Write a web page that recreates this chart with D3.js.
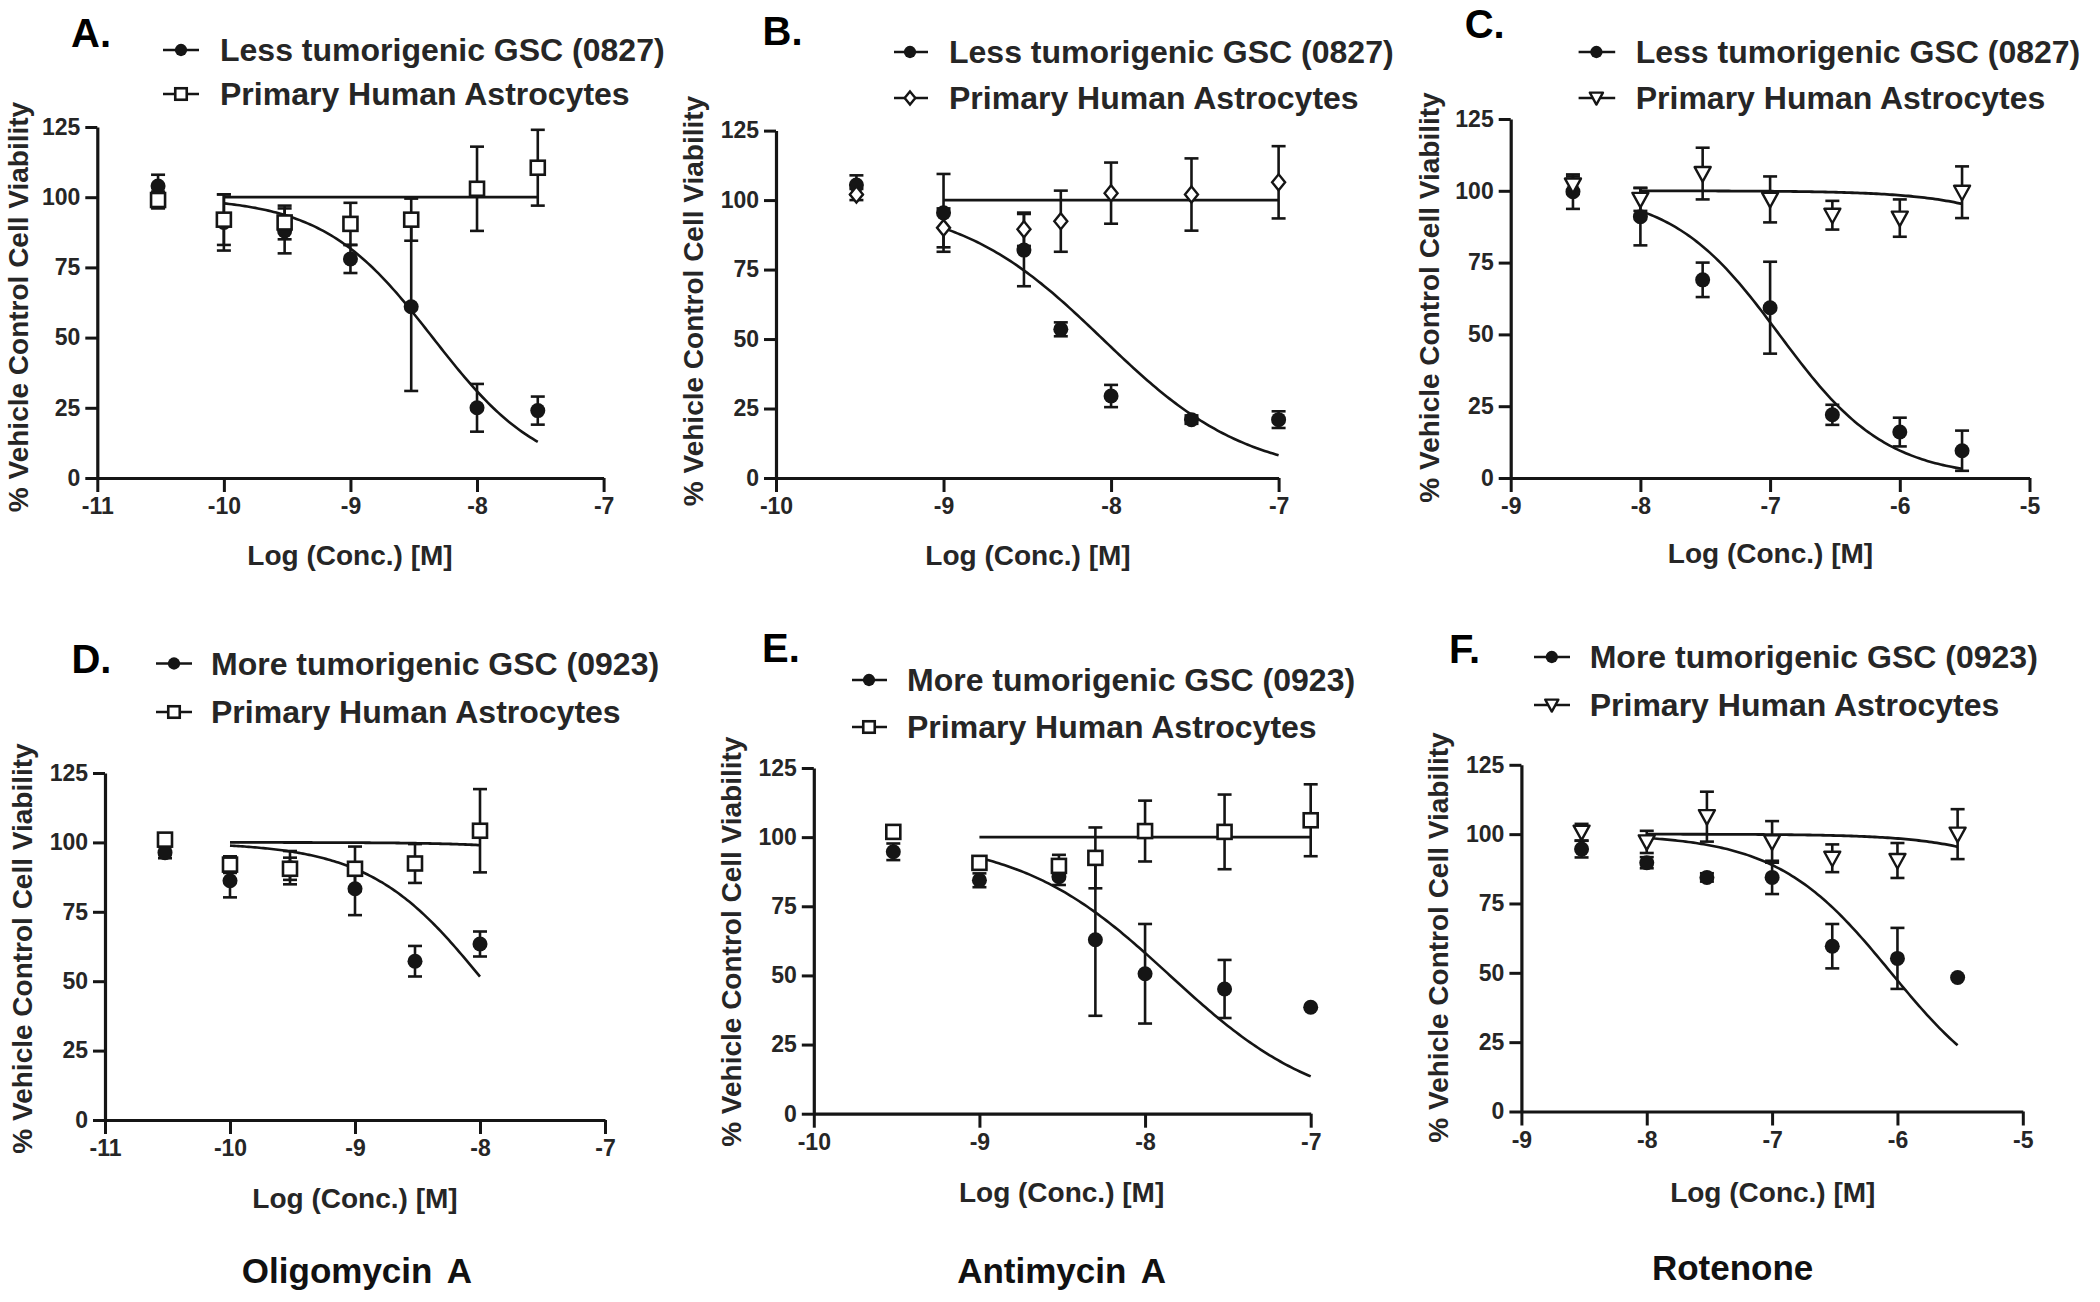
<!DOCTYPE html>
<html><head><meta charset="utf-8">
<script src="https://cdn.jsdelivr.net/npm/d3@7"></script>
<style>
html,body{margin:0;padding:0;background:#fff;}
svg{display:block;font-family:"Liberation Sans",Arial,Helvetica,sans-serif;}
</style></head>
<body>
<svg id="fig" width="2100" height="1302"></svg>
<script>
// ---------- DATA ----------
const panelLabels = ["A.", "B.", "C.", "D.", "E.", "F."];
const gscNames = ["Less tumorigenic GSC (0827)", "Less tumorigenic GSC (0827)", "Less tumorigenic GSC (0827)",
                  "More tumorigenic GSC (0923)", "More tumorigenic GSC (0923)", "More tumorigenic GSC (0923)"];
const astroName = "Primary Human Astrocytes";
const drugNames = ["", "", "", "Oligomycin A", "Antimycin A", "Rotenone"];
const yTitle = "% Vehicle Control Cell Viability";
const xTitle = "Log (Conc.) [M]";
const yTicks = [0, 25, 50, 75, 100, 125];
const xTicksA = [-11, -10, -9, -8, -7];
const xTicksB = [-10, -9, -8, -7];
const xTicksC = [-9, -8, -7, -6, -5];

// Panel A – Oligomycin A, 0827
const xA = [-10.52, -10, -9.52, -9, -8.52, -8, -7.52];
const gscA = [104, 91, 88, 78, 61, 25, 24];
const gscErrA = [4, 10, 8, 5, 30, 8.5, 5];
const astA = [99, 92, 91, 90.5, 92, 103, 110.5];
const astErrA = [3, 9, 6, 7.5, 7.5, 15, 13.5];
// Panel B – Antimycin A, 0827
const xB = [-9.52, -9, -8.52, -8.3, -8, -7.52, -7];
const gscB = [105.4, 95.4, 82, 53.5, 29.5, 21, 21];
const gscErrB = [3.5, 14, 13, 2.5, 4, 1.5, 3];
const astB = [102, 90, 89.5, 92.4, 102.5, 102, 106.4];
const astErrB = [2, 7, 6, 11, 11, 13, 13];
// Panel C – Rotenone, 0827
const xC = [-8.52, -8, -7.52, -7, -6.52, -6, -5.52];
const gscC = [99.7, 91, 69, 59.3, 22, 16, 9.5];
const gscErrC = [6, 10, 6, 16, 3.5, 5, 7];
const astC = [102, 97, 106, 97, 91.5, 90.5, 99.5];
const astErrC = [3, 4, 9, 8, 5, 6.5, 9];
// Panel D – Oligomycin A, 0923
const xD = [-10.52, -10, -9.52, -9, -8.52, -8];
const gscD = [96.3, 86.2, 90.9, 83.3, 57.2, 63.4];
const gscErrD = [2, 6, 6, 9.5, 5.5, 4.5];
const astD = [101, 92, 90.5, 90.5, 92.4, 104.2];
const astErrD = [2, 3, 4, 8, 7, 15];
// Panel E – Antimycin A, 0923
const xE = [-9.52, -9, -8.52, -8.3, -8, -7.52, -7];
const gscE = [94.7, 84.4, 85.7, 62.9, 50.6, 45.1, 38.5];
const gscErrE = [3, 2.5, 3, 27.5, 18, 10.5, 0];
const astE = [101.9, 90.7, 89.6, 92.5, 102.2, 101.9, 106.1];
const astErrE = [2, 2, 4, 11, 11, 13.5, 13];
// Panel F – Rotenone, 0923
const xF = [-8.52, -8, -7.52, -7, -6.52, -6, -5.52];
const gscF = [94.6, 89.7, 84.4, 84.4, 59.6, 55.2, 48.3];
const gscErrF = [3, 2, 1.5, 6, 8, 11, 0];
const astF = [100.7, 97.2, 106.3, 97.2, 91.3, 90.5, 100];
const astErrF = [3, 4, 9, 7.5, 5, 6.3, 9];

// Fitted 4-parameter curves: [top, bottom, logIC50, hill]
const fitGscA = [100, 0, -8.35, 1],  fitAstA = [100, 100, -8, 1];
const fitGscB = [100, 0, -8.05, 1],  fitAstB = [100, 100, -8, 1];
const fitGscC = [100, 0, -6.93, 1.05], fitAstC = [100, 0, -4.2, 1];
const fitGscD = [100, 0, -7.97, 0.95], fitAstD = [100, 0, -6, 1];
const fitGscE = [100, 0, -7.85, 0.95], fitAstE = [100, 100, -8, 1];
const fitGscF = [100, 0, -6.05, 0.95], fitAstF = [100, 0, -4.2, 1];
const fitRangeA = [-10, -7.52], fitRangeB = [-9, -7], fitRangeC = [-8, -5.52];
const fitRangeD = [-10, -8], fitRangeE = [-9, -7], fitRangeF = [-8, -5.52];
const astroShapes = ["square", "diamond", "triangle", "square", "square", "triangle"];

// ---------- LAYOUT ----------
const layout = [
  {xd:[-11,-7], xt:xTicksA, px:[97.3,603.6], py:[478,127], title:[71,33], sym:181, line:[163,199], tx:220, rows:[50,94], xTitle:[350,555], yLab:[18,307], drug:null},
  {xd:[-10,-7], xt:xTicksB, px:[776,1278.6], py:[478,130.6], title:[762.5,31.4], sym:910, line:[894,928], tx:949, rows:[52,98], xTitle:[1028,555], yLab:[693,301], drug:null},
  {xd:[-9,-5], xt:xTicksC, px:[1510.7,2029.5], py:[478,119], title:[1464.7,24], sym:1596.4, line:[1578.6,1615.2], tx:1635.7, rows:[52,98], xTitle:[1770.5,553], yLab:[1429,297.5], drug:null},
  {xd:[-11,-7], xt:xTicksA, px:[105,605], py:[1120,773], title:[71.4,659], sym:174, line:[156,192], tx:211, rows:[663.5,712], xTitle:[355,1198.5], yLab:[22,948.5], drug:[357,1270]},
  {xd:[-10,-7], xt:xTicksB, px:[813.8,1310.7], py:[1113.7,768], title:[762,648], sym:869, line:[852,887], tx:907, rows:[680,727], xTitle:[1061.6,1192], yLab:[731,941.7], drug:[1061.6,1270]},
  {xd:[-9,-5], xt:xTicksC, px:[1521.4,2022.8], py:[1111.5,764.8], title:[1449,649], sym:1551.8, line:[1534,1570], tx:1589.7, rows:[657,705], xTitle:[1772.8,1192], yLab:[1438,937.5], drug:[1732.6,1267]}
];
const series = [
  {x:xA, g:gscA, ge:gscErrA, a:astA, ae:astErrA, fg:fitGscA, fa:fitAstA, fr:fitRangeA},
  {x:xB, g:gscB, ge:gscErrB, a:astB, ae:astErrB, fg:fitGscB, fa:fitAstB, fr:fitRangeB},
  {x:xC, g:gscC, ge:gscErrC, a:astC, ae:astErrC, fg:fitGscC, fa:fitAstC, fr:fitRangeC},
  {x:xD, g:gscD, ge:gscErrD, a:astD, ae:astErrD, fg:fitGscD, fa:fitAstD, fr:fitRangeD},
  {x:xE, g:gscE, ge:gscErrE, a:astE, ae:astErrE, fg:fitGscE, fa:fitAstE, fr:fitRangeE},
  {x:xF, g:gscF, ge:gscErrF, a:astF, ae:astErrF, fg:fitGscF, fa:fitAstF, fr:fitRangeF}
];

const ink = "#151515", textInk = "#262626";
const svg = d3.select("#fig");
svg.append("rect").attr("width",2100).attr("height",1302).attr("fill","#fff");

function logistic(p, x){ return p[1] + (p[0]-p[1])/(1+Math.pow(10,(x-p[2])*p[3])); }

function marker(g, shape, cx, cy, s){
  s = s || 1;
  if(shape==="circle"){
    g.append("circle").attr("cx",cx).attr("cy",cy).attr("r",7.5*s).attr("fill",ink);
  } else if(shape==="square"){
    g.append("rect").attr("x",cx-7*s).attr("y",cy-7*s).attr("width",14*s).attr("height",14*s)
      .attr("fill","#fff").attr("stroke",ink).attr("stroke-width",2.6);
  } else if(shape==="diamond"){
    g.append("path").attr("d",`M${cx},${cy-8*s}L${cx+6.5*s},${cy}L${cx},${cy+8*s}L${cx-6.5*s},${cy}Z`)
      .attr("fill","#fff").attr("stroke",ink).attr("stroke-width",2.4);
  } else {
    g.append("path").attr("d",`M${cx-8*s},${cy-6.5*s}L${cx+8*s},${cy-6.5*s}L${cx},${cy+8*s}Z`)
      .attr("fill","#fff").attr("stroke",ink).attr("stroke-width",2.4).attr("stroke-linejoin","round");
  }
}

layout.forEach((L, i) => {
  const S = series[i];
  const g = svg.append("g");
  const x = d3.scaleLinear().domain(L.xd).range(L.px);
  const y = d3.scaleLinear().domain([0,125]).range(L.py);

  // axes
  const xAxis = d3.axisBottom(x).tickValues(L.xt).tickSize(14).tickSizeOuter(0).tickPadding(6).tickFormat(d3.format("d"));
  const yAxis = d3.axisLeft(y).tickValues(yTicks).tickSize(12).tickSizeOuter(0).tickPadding(5);
  const gx = g.append("g").attr("transform",`translate(0,${L.py[0]})`).call(xAxis);
  const gy = g.append("g").attr("transform",`translate(${L.px[0]},0)`).call(yAxis);
  [gx,gy].forEach(a=>{
    a.select(".domain").attr("stroke",ink).attr("stroke-width",3.2);
    a.selectAll(".tick line").attr("stroke",ink).attr("stroke-width",3);
    a.selectAll(".tick text").attr("fill",textInk).attr("font-size",23).attr("font-weight","bold")
      .attr("font-family",'"Liberation Sans",Arial,sans-serif');
  });
  gx.selectAll(".tick text").text(d=>String(d).replace("\u2212","-"));

  // fitted curves
  const line = d3.line().x(d=>x(d[0])).y(d=>y(d[1]));
  const xs = d3.range(0,121).map(k=>S.fr[0]+(S.fr[1]-S.fr[0])*k/120);
  g.append("path").attr("d",line(xs.map(v=>[v,logistic(S.fa,v)]))).attr("fill","none").attr("stroke",ink).attr("stroke-width",2.8);
  g.append("path").attr("d",line(xs.map(v=>[v,logistic(S.fg,v)]))).attr("fill","none").attr("stroke",ink).attr("stroke-width",2.6);

  // error bars
  function errBars(vals, errs){
    vals.forEach((v,k)=>{
      const e = errs[k]; if(!e) return;
      const cx = x(S.x[k]);
      g.append("line").attr("x1",cx).attr("x2",cx).attr("y1",y(v-e)).attr("y2",y(v+e)).attr("stroke",ink).attr("stroke-width",2.6);
      [v-e,v+e].forEach(t=>g.append("line").attr("x1",cx-7).attr("x2",cx+7).attr("y1",y(t)).attr("y2",y(t)).attr("stroke",ink).attr("stroke-width",2.6));
    });
  }
  errBars(S.g, S.ge);
  errBars(S.a, S.ae);
  S.g.forEach((v,k)=>marker(g,"circle",x(S.x[k]),y(v)));
  S.a.forEach((v,k)=>marker(g,astroShapes[i],x(S.x[k]),y(v)));

  // panel title
  g.append("text").attr("x",L.title[0]).attr("y",L.title[1]).attr("dominant-baseline","central")
    .attr("font-size",40).attr("font-weight","bold").attr("fill","#000").text(panelLabels[i]);

  // legend
  [[gscNames[i],"circle"],[astroName,astroShapes[i]]].forEach((it,r)=>{
    const ry = L.rows[r];
    g.append("line").attr("x1",L.line[0]).attr("x2",L.line[1]).attr("y1",ry).attr("y2",ry).attr("stroke",ink).attr("stroke-width",2.6);
    marker(g,it[1],L.sym,ry,0.82);
    g.append("text").attr("x",L.tx).attr("y",ry).attr("dominant-baseline","central")
      .attr("font-size",32).attr("font-weight","bold").attr("fill",textInk).text(it[0]);
  });

  // axis titles
  g.append("text").attr("x",L.xTitle[0]).attr("y",L.xTitle[1]).attr("text-anchor","middle").attr("dominant-baseline","central")
    .attr("font-size",28).attr("font-weight","bold").attr("fill",textInk).text(xTitle);
  g.append("text").attr("transform",`translate(${L.yLab[0]},${L.yLab[1]}) rotate(-90)`).attr("text-anchor","middle")
    .attr("dominant-baseline","central").attr("font-size",28).attr("font-weight","bold").attr("fill",textInk).text(yTitle);

  if(L.drug){
    g.append("text").attr("x",L.drug[0]).attr("y",L.drug[1]).attr("text-anchor","middle").attr("dominant-baseline","central")
      .attr("font-size",35).attr("font-weight","bold").attr("word-spacing",6).attr("fill","#111").text(drugNames[i]);
  }
});
</script>
</body></html>
